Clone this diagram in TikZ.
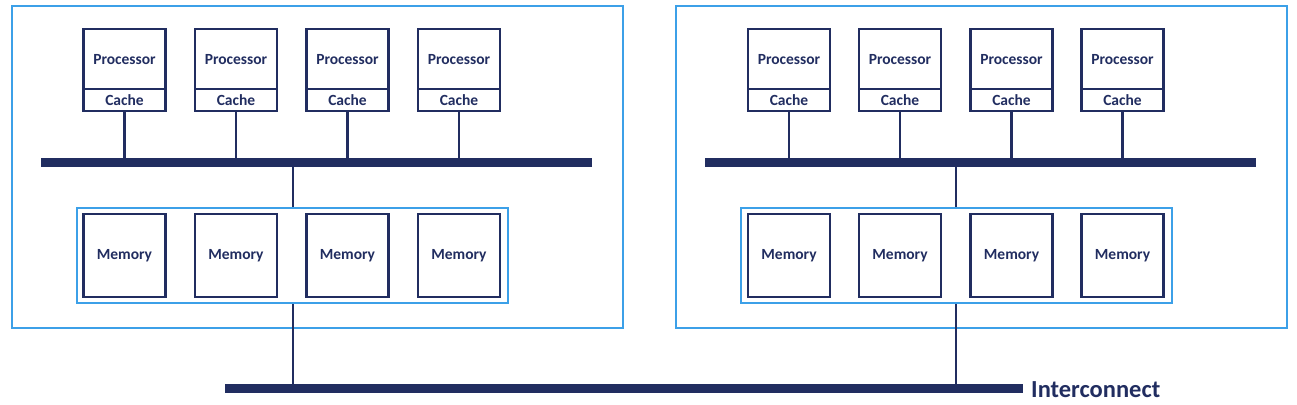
\documentclass[tikz,border=0pt]{standalone}
\usepackage{fontspec}
\setmainfont{Carlito}
\definecolor{navy}{RGB}{33,45,96}
\definecolor{lblue}{RGB}{60,160,232}
\begin{document}
\begin{tikzpicture}[x=1pt,y=-1pt,
  outerbox/.style={draw=lblue,line width=2.6pt,fill=none,inner sep=0pt},
  membox/.style={draw=lblue,line width=2pt,inner sep=0pt},
  boxtext/.style={text=navy,font=\bfseries\fontsize{15.5}{15.5}\selectfont},
  procbox/.style={draw=navy,line width=2.5pt,inner sep=0pt,minimum width=82pt,minimum height=60pt,boxtext},
  cachebox/.style={draw=navy,line width=2.5pt,inner sep=0pt,minimum width=82pt,minimum height=22pt,boxtext},
  memorybox/.style={draw=navy,line width=2.5pt,inner sep=0pt,minimum width=82pt,minimum height=83pt,boxtext},
  bus/.style={fill=navy,draw=none,inner sep=0pt,minimum height=9pt},
  wire/.style={draw=navy,line width=2.7pt}]
\useasboundingbox (0,0) rectangle (1297,404);
% outer boxes
\node[outerbox,minimum width=611pt,minimum height=322pt] (L) at (317.5,167) {};
\node[outerbox,minimum width=611pt,minimum height=322pt] (R) at (981.5,167) {};
% memory group boxes
\node[membox,minimum width=431pt,minimum height=95pt] (LM) at (292.5,255.5) {};
\node[membox,minimum width=431pt,minimum height=95pt] (RM) at (956.5,255.5) {};
% buses
\node[bus,minimum width=551pt] (LB) at (316.5,162.5) {};
\node[bus,minimum width=551pt] (RB) at (980.5,162.5) {};
\node[bus,minimum width=798pt,minimum height=9.5pt] (IB) at (624,388.5) {};
\node[anchor=west,text=navy,font=\bfseries\fontsize{24.5}{24.5}\selectfont,inner sep=0pt] (IL) at (1031,390) {Interconnect};
% left side
\foreach \i/\x in {1/124.5,2/236,3/347.5,4/459}{
  \node[procbox,text depth=-2pt] (lp\i) at (\x,59) {Processor};
  \node[cachebox] (lc\i) at (\x,100) {Cache};
  \node[memorybox] (lm\i) at (\x,255.5) {Memory};
  \draw[wire] (lc\i.south) -- (lc\i.south |- LB.north);
}
\foreach \i/\x in {1/789,2/900,3/1011.5,4/1122.5}{
  \node[procbox,text depth=-2pt] (rp\i) at (\x,59) {Processor};
  \node[cachebox] (rc\i) at (\x,100) {Cache};
  \node[memorybox] (rm\i) at (\x,255.5) {Memory};
  \draw[wire] (rc\i.south) -- (rc\i.south |- RB.north);
}
\coordinate (lt) at (293,0);
\coordinate (rt) at (956,0);
\draw[wire] (LB.south -| lt) -- (LM.north -| lt);
\draw[wire] (LM.south -| lt) -- (IB.north -| lt);
\draw[wire] (RB.south -| rt) -- (RM.north -| rt);
\draw[wire] (RM.south -| rt) -- (IB.north -| rt);
\end{tikzpicture}
\end{document}
